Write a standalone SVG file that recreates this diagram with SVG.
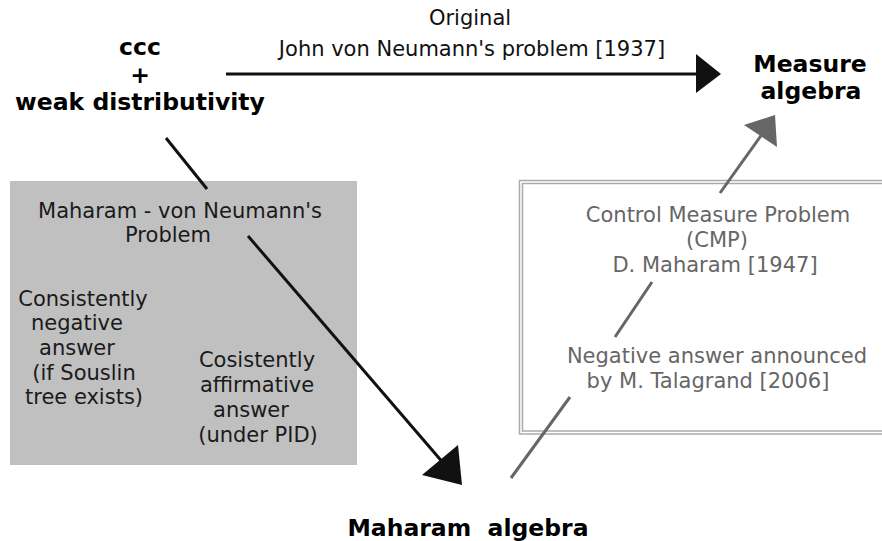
<svg xmlns="http://www.w3.org/2000/svg" width="882" height="541" viewBox="0 0 882 541">
<style>
.r{font-family:"DejaVu Sans",sans-serif;font-size:21px;text-anchor:middle;fill:#111}
.b{font-family:"DejaVu Sans",sans-serif;font-weight:bold;font-size:23.5px;text-anchor:middle;fill:#000}
.t{font-family:"DejaVu Sans",sans-serif;font-size:21px;text-anchor:middle;fill:#1a1a1a}
.g{font-family:"DejaVu Sans",sans-serif;font-size:21px;text-anchor:middle;fill:#666}
.bl{stroke:#111;stroke-width:3;fill:none}
.gl{stroke:#666;stroke-width:3;fill:none}
</style>
<rect width="882" height="541" fill="#fff"/>
<g id="gray-box">
<rect x="10" y="181" width="347" height="284" fill="#c0c0c0"/>
<text class="t" x="180" y="218">Maharam - von Neumann's</text>
<text class="t" x="168" y="242">Problem</text>
<text class="t" x="83" y="306">Consistently</text>
<text class="t" x="77" y="330">negative</text>
<text class="t" x="77" y="355">answer</text>
<text class="t" x="84" y="380">(if Souslin</text>
<text class="t" x="84" y="404">tree exists)</text>
<text class="t" x="257" y="367">Cosistently</text>
<text class="t" x="257" y="392">affirmative</text>
<text class="t" x="251" y="417">answer</text>
<text class="t" x="258" y="442">(under PID)</text>
</g>
<g id="cmp-box">
<rect x="519.5" y="180.5" width="380" height="253.5" fill="none" stroke="#aaa" stroke-width="1.5"/>
<rect x="522.5" y="183.5" width="380" height="247.5" fill="none" stroke="#aaa" stroke-width="1.5"/>
<text class="g" x="718" y="222">Control Measure Problem</text>
<text class="g" x="717" y="247">(CMP)</text>
<text class="g" x="715" y="272">D. Maharam [1947]</text>
<text class="g" x="717" y="363">Negative answer announced</text>
<text class="g" x="708" y="388">by M. Talagrand [2006]</text>
</g>
<g id="ccc-node">
<text class="b" x="140" y="55">ccc</text>
<text class="b" x="140" y="83">+</text>
<text class="b" x="140" y="110">weak distributivity</text>
</g>
<g id="measure-node">
<text class="b" x="810" y="72">Measure</text>
<text class="b" x="811" y="99">algebra</text>
</g>
<g id="maharam-node">
<text class="b" x="468" y="536" font-size="25" xml:space="preserve" style="white-space:pre">Maharam  algebra</text>
</g>
<g id="label-original">
<text class="r" x="470" y="25">Original</text>
<text class="r" x="472" y="56">John von Neumann's problem [1937]</text>
</g>
<g id="connectors">
<line class="bl" x1="226" y1="74" x2="700" y2="74"/>
<polygon points="696,54 721,74 696,93" fill="#111"/>
<line class="bl" x1="166" y1="138" x2="207" y2="189" stroke-width="2.5"/>
<line class="bl" x1="248" y1="236" x2="445" y2="465"/>
<polygon points="462,485 458,445 422,475" fill="#111"/>
<line class="gl" x1="511" y1="478" x2="570" y2="397"/>
<line class="gl" x1="615" y1="337" x2="652" y2="282"/>
<line class="gl" x1="720" y1="193" x2="765" y2="130"/>
<polygon points="775,115 744,125 777,147" fill="#666"/>
</g>
</svg>
